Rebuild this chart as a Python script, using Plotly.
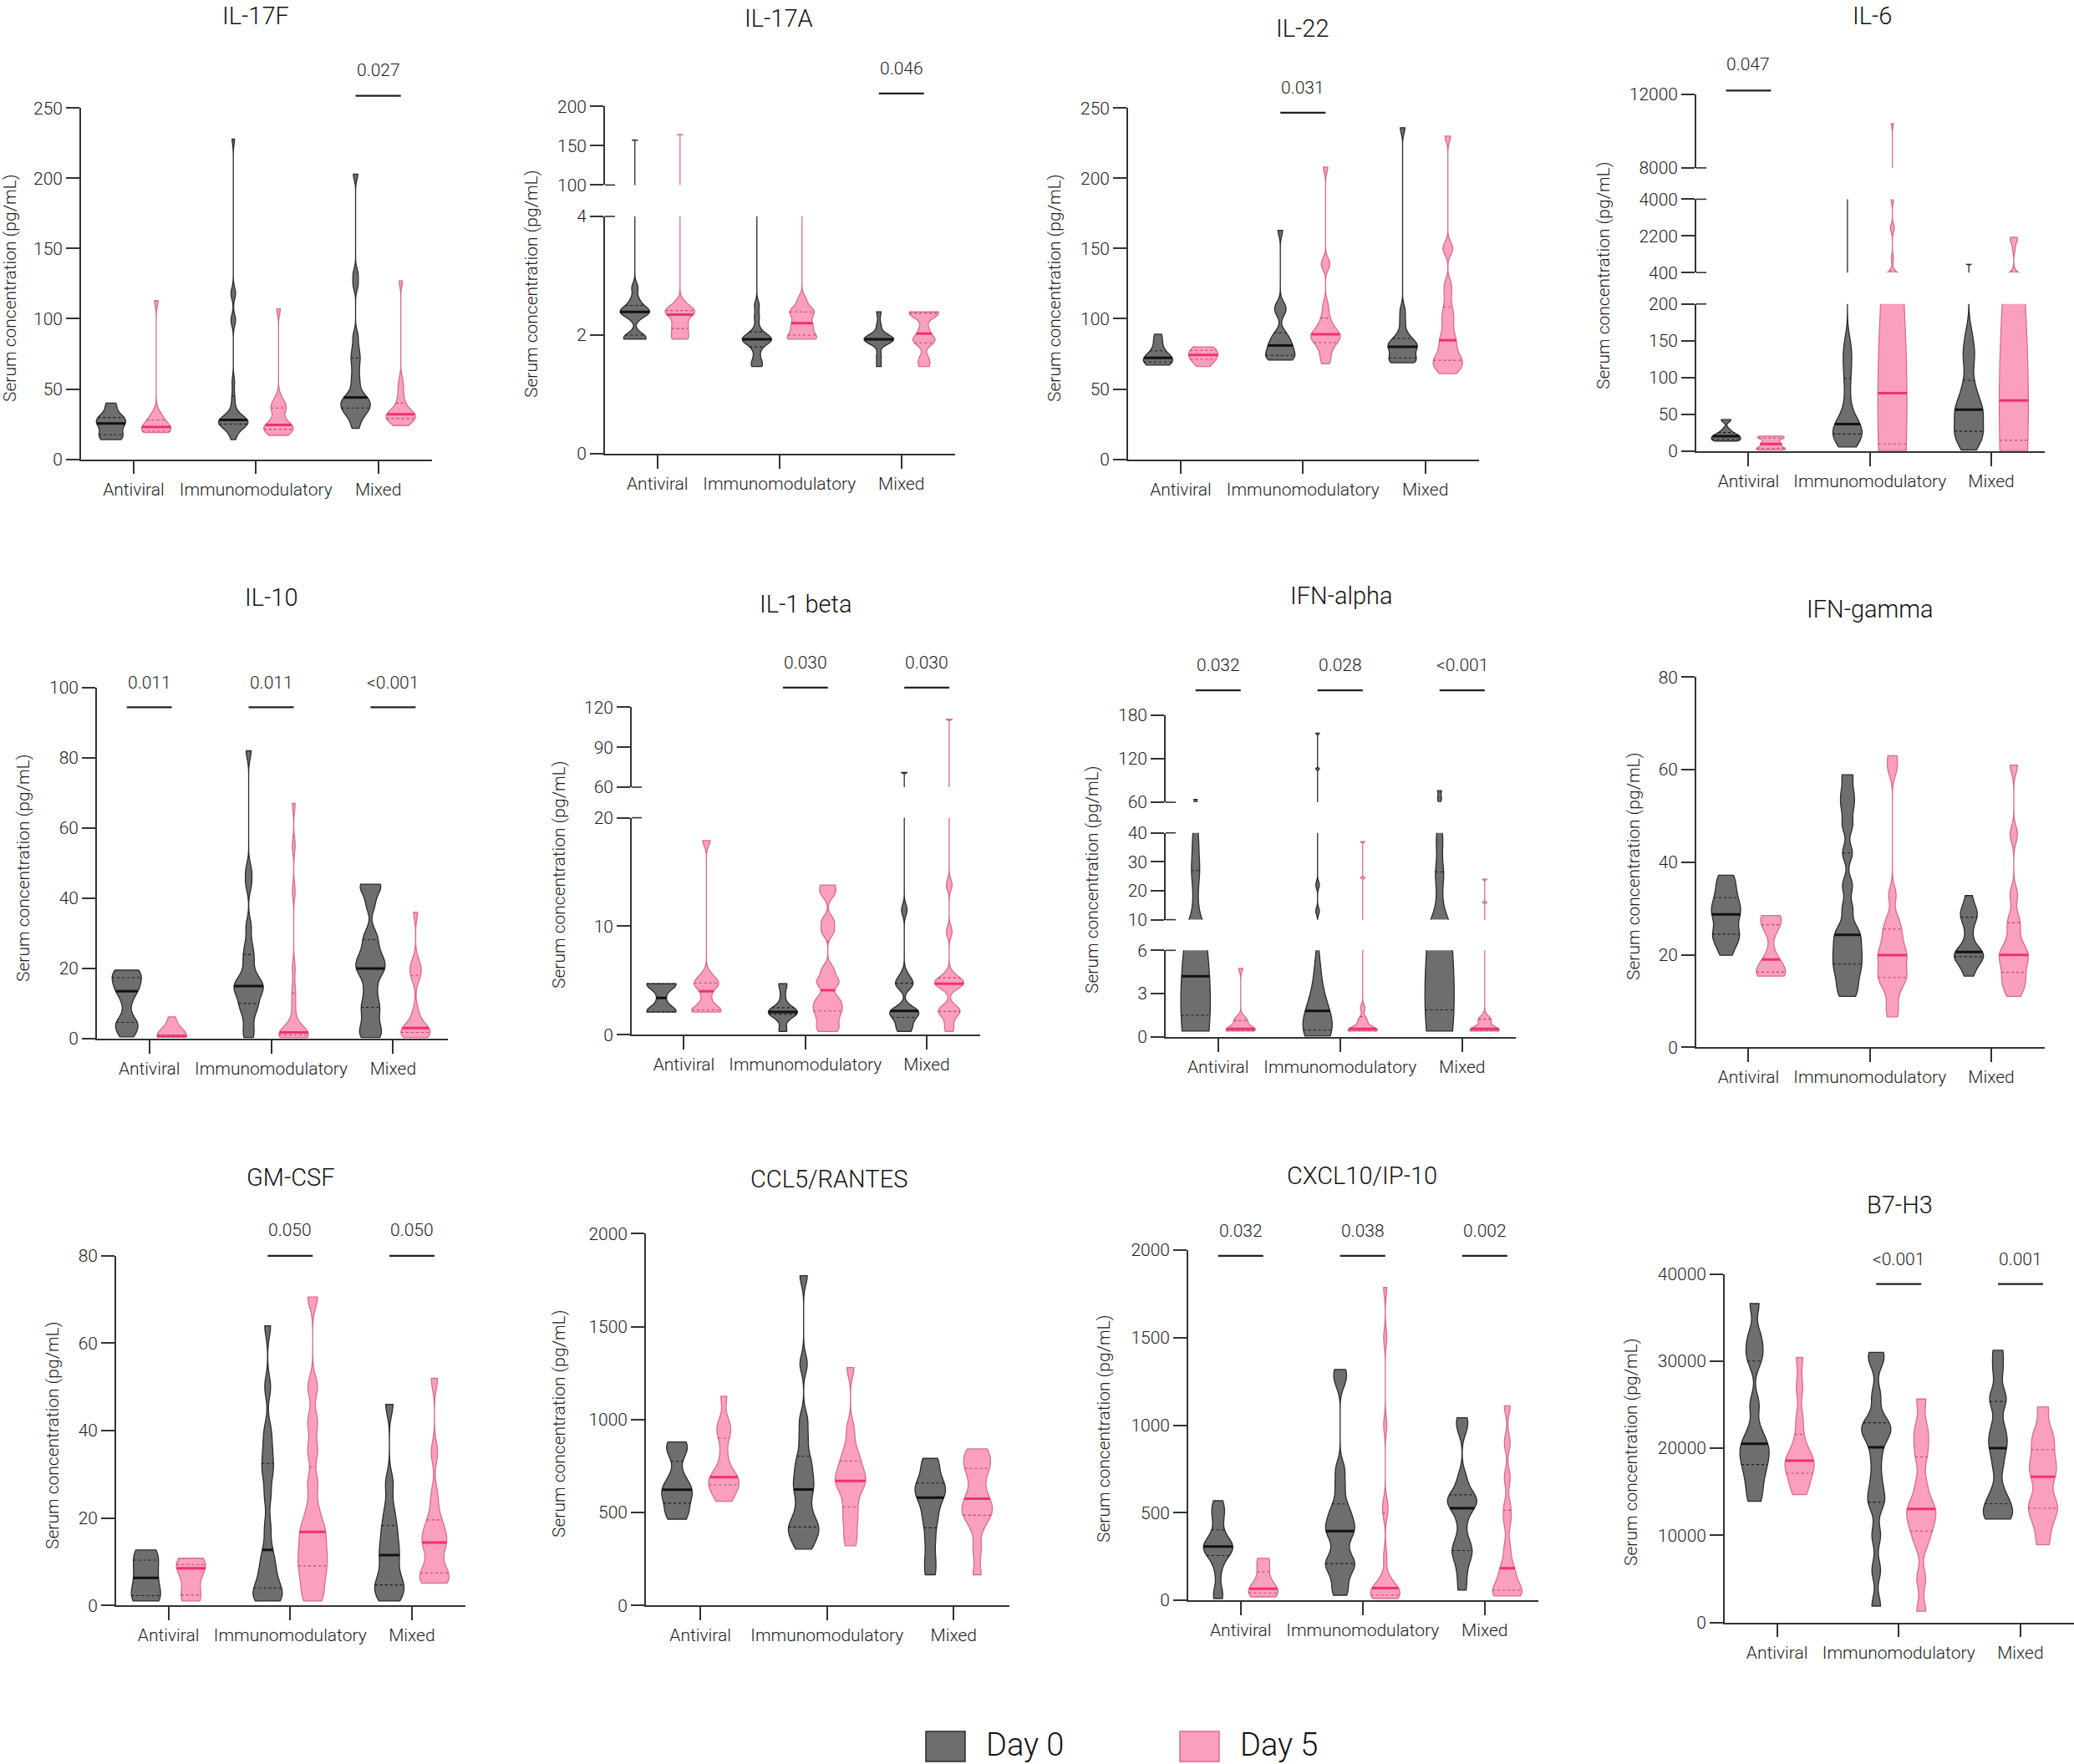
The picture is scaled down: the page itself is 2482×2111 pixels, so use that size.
import numpy as np
import plotly.graph_objects as go

GROUPS = ["Antiviral", "Immunomodulatory", "Mixed"]
DAYS = ["Day 0", "Day 5"]

# serum values, one list per group: Antiviral, Immunomodulatory, Mixed
IL17F_D0 = [[14, 15, 16, 17, 19, 24, 25, 26, 27, 29, 30, 31, 38, 40],
            [14, 18, 21, 23, 24, 25, 25, 26, 26, 27, 27, 27, 28, 28, 29, 30, 33, 38, 45, 55, 98, 100, 117, 119, 228],
            [22, 27, 31, 33, 35, 36, 37, 39, 41, 42, 43, 44, 48, 53, 58, 64, 70, 74, 80, 88, 124, 132, 203]]
IL17F_D5 = [[19, 19, 20, 20, 21, 22, 23, 24, 26, 28, 30, 33, 113],
            [17, 18, 19, 20, 21, 22, 23, 24, 24, 25, 27, 33, 35, 37, 38, 40, 44, 107],
            [24, 26, 27, 28, 29, 30, 31, 31, 32, 33, 34, 36, 40, 44, 50, 56, 127]]

IL17A_D0 = [[1.93, 1.93, 1.95, 2.0, 2.3, 2.39, 2.39, 2.4, 2.4, 2.5, 2.6, 2.8, 157],
            [1.47, 1.5, 1.6, 1.75, 1.85, 1.9, 1.93, 1.93, 1.93, 1.95, 2.0, 2.1, 2.3, 2.5, 20],
            [1.47, 1.65, 1.9, 1.93, 1.93, 1.93, 1.93, 1.93, 1.95, 2.15, 2.39]]
IL17A_D5 = [[1.93, 1.95, 2.05, 2.13, 2.2, 2.3, 2.39, 2.39, 2.4, 2.45, 2.55, 164],
            [1.93, 1.93, 1.95, 2.0, 2.1, 2.15, 2.2, 2.3, 2.39, 2.39, 2.45, 2.6, 30],
            [1.47, 1.6, 1.85, 1.93, 1.95, 2.1, 2.3, 2.39, 2.39, 2.39]]

IL22_D0 = [[67, 67.5, 68, 69, 70, 71, 72, 72.5, 73, 75, 78, 82, 86, 89],
           [70.6, 71, 72, 73, 74, 76, 78, 80, 81, 83, 85, 88, 90, 104, 107, 110, 163],
           [68.7, 69, 70, 71, 72, 74, 78, 80, 80, 81, 82, 84, 86, 90, 98, 106, 236]]
IL22_D5 = [[66, 67, 69, 71, 72, 73, 74, 74.5, 75, 76, 78, 79, 80, 80],
           [68, 72, 76, 80, 82, 84, 86, 87, 88, 89, 90, 92, 95, 98, 103, 110, 138, 140, 208],
           [61, 63, 65, 67, 69, 70, 72, 74, 77, 80, 83.5, 86, 90, 95, 100, 104, 110, 118, 125, 148, 152, 230]]

IL6_D0 = [[14, 14, 15, 16, 17, 19, 20, 21, 22, 24, 26, 30, 42, 43],
          [6, 10, 14, 18, 22, 24, 26, 28, 32, 36, 38, 45, 55, 75, 95, 110, 125, 135, 150, 5000],
          [1.8, 10, 18, 22, 25, 28, 35, 45, 52, 55, 58, 62, 70, 85, 90, 115, 130, 140, 160, 805]]
IL6_D5 = [[1.8, 2, 3, 4, 6, 9, 10, 12, 15, 18, 19, 20, 20.6],
          [1, 1.5, 2, 2, 3, 10, 30, 50, 60, 70, 79, 120, 180, 250, 330, 480, 1100, 2500, 2650, 3950, 10400],
          [1, 2, 3, 4, 5, 15, 30, 45, 55, 62, 69, 100, 150, 220, 300, 450, 1500, 1850, 2000, 2100, 2130]]

IL10_D0 = [[0.5, 2, 3.8, 4.5, 5, 10, 13, 14, 15, 16, 17.8, 18.5, 19, 19.5],
           [0.3, 2, 5, 8, 9, 10, 12, 13, 14, 15, 15, 16, 17, 19, 22, 24, 27, 32, 44, 48, 82],
           [0.3, 1, 3, 5, 8, 9.2, 12, 15, 18, 20, 20, 22, 23, 25, 27.6, 30, 38, 42, 44, 44]]
IL10_D5 = [[0.4, 0.5, 0.5, 0.5, 0.6, 0.7, 0.7, 0.8, 1, 1.5, 5.5, 6.2],
           [0.3, 0.4, 0.5, 0.8, 1, 1.2, 1.5, 1.6, 1.7, 1.8, 3, 6, 10, 14, 20, 42, 55, 67],
           [0.3, 0.5, 1, 1.5, 2, 2.3, 2.5, 3, 5, 8, 17, 19, 20, 22, 36]]

IL1B_D0 = [[2.1, 2.1, 2.1, 2.3, 3.4, 4.5, 4.7, 4.7, 4.7],
           [0.3, 0.5, 1.8, 1.9, 2, 2.1, 2.1, 2.1, 2.2, 2.5, 3.5, 4.6, 4.7],
           [0.3, 0.5, 1, 1.4, 1.8, 2.1, 2.1, 2.2, 2.3, 4.5, 4.7, 4.8, 5.5, 11.5, 71]]
IL1B_D5 = [[2.1, 2.1, 2.2, 2.5, 3.5, 4.5, 4.7, 4.8, 5.5, 17.9],
           [0.3, 0.8, 1.5, 2.1, 2.5, 3, 3.5, 4.7, 5, 6, 9.5, 10.5, 13, 13.8],
           [0.3, 1, 2, 2.1, 2.2, 2.5, 4.5, 4.7, 4.7, 4.8, 5, 5.5, 9.5, 13.8, 111]]

IFNA_D0 = [[0.4, 0.5, 1.0, 1.3, 1.5, 2.5, 3.5, 4.0, 4.2, 9, 12, 20, 27, 28, 35, 40, 64],
           [0.05, 0.1, 0.3, 0.37, 0.5, 0.8, 1.2, 1.6, 2, 2.5, 3.5, 5, 13, 22, 106, 155],
           [0.4, 0.5, 0.6, 0.8, 1.5, 3, 5, 7, 8, 9, 12, 18, 25, 27, 35, 40, 65, 76]]
IFNA_D5 = [[0.4, 0.4, 0.4, 0.45, 0.5, 0.5, 0.6, 0.8, 1.1, 1.2, 1.3, 4.75],
           [0.4, 0.4, 0.4, 0.45, 0.5, 0.5, 0.6, 1.1, 1.2, 2.0, 24.5, 37],
           [0.4, 0.4, 0.4, 0.45, 0.5, 0.5, 0.6, 1.1, 1.2, 1.3, 16, 24]]

IFNG_D0 = [[19.9, 22, 23.5, 24.3, 25, 27, 28.5, 29, 30.5, 31, 32.8, 34, 36, 37.2],
           [11, 13, 15, 17, 18, 20, 21, 23, 24.3, 26, 30, 35, 42, 48, 52, 55, 58.9],
           [15.4, 17, 19, 19.5, 19.9, 20, 20.2, 21, 24, 27, 28.5, 29, 30, 32.8]]
IFNG_D5 = [[15.4, 15.5, 16, 17, 18, 20, 25, 27, 28, 28.5],
           [6.6, 9, 12, 14, 15, 15.4, 17, 18, 19.9, 20, 21, 23, 24.3, 26, 28, 33, 60, 63],
           [11, 13, 14, 15.4, 17, 18, 19.9, 20, 21, 23, 25.8, 28, 33, 46, 61]]

GMCSF_D0 = [[1, 1.2, 1.5, 2.5, 3.5, 6, 6.6, 8, 10, 11.5, 12, 12.7],
            [1, 1.5, 2, 2.9, 4, 6, 8, 10, 12.7, 18, 25, 30, 32.5, 36, 40, 50, 64],
            [1, 2, 4, 4.7, 6, 9, 11.5, 13, 16, 18.3, 22, 28, 46]]
GMCSF_D5 = [[1, 1.5, 1.8, 3, 6, 8.5, 9, 9.2, 9.5, 10, 10.8],
            [1, 3, 6, 8, 10.1, 12, 14, 16.8, 18, 22, 28, 35.4, 42, 50, 70.6],
            [5.1, 5.5, 6.5, 7.2, 8, 12, 14, 14.8, 16, 18, 20.1, 25, 35, 52]]

CCL5_D0 = [[464, 480, 505, 540, 580, 600, 615, 630, 660, 700, 800, 848, 860, 879],
           [303, 340, 380, 410, 422, 450, 500, 560, 624, 650, 700, 750, 802, 900, 1000, 1300, 1774],
           [165, 250, 350, 440, 500, 560, 600, 620, 650, 684, 750, 791]]
CCL5_D5 = [[560, 580, 620, 648, 660, 679, 690, 720, 800, 900, 952, 980, 1125],
           [321, 380, 450, 501, 560, 620, 650, 670, 690, 720, 760, 793, 850, 950, 1279],
           [165, 300, 420, 480, 499, 520, 560, 587, 650, 720, 743, 780, 820, 842]]

CXCL10_D0 = [[10, 50, 170, 250, 273, 290, 300, 315, 330, 350, 420, 487, 520, 569],
             [29, 80, 150, 200, 210, 230, 300, 370, 395, 420, 460, 498, 550, 650, 750, 1250, 1318],
             [58, 150, 230, 269, 300, 350, 450, 526, 550, 570, 584, 620, 700, 980, 1042]]
CXCL10_D5 = [[19.5, 25, 35, 45, 55, 62, 70, 80, 150, 200, 230, 240],
             [10, 15, 20, 23, 30, 40, 50, 62, 70, 90, 120, 250, 498, 550, 1000, 1500, 1786],
             [25, 30, 39, 50, 80, 120, 166, 200, 300, 450, 535, 700, 900, 1110]]

B7H3_D0 = [[13895, 15500, 17000, 18122, 19000, 20000, 20500, 22000, 25000, 30000, 31390, 33000, 36595],
           [1879, 6000, 10000, 13582, 14500, 16500, 19000, 21214, 21800, 22662, 23000, 26000, 30000, 31000],
           [11859, 12000, 13000, 13621, 15000, 18000, 20000, 21000, 22500, 25363, 26000, 29000, 31233]]
B7H3_D5 = [[14678, 15500, 16500, 17340, 18000, 18317, 18800, 19500, 21000, 23367, 27000, 30412],
           [1292, 5000, 9000, 10490, 11500, 12500, 13034, 14000, 16000, 19000, 20822, 22500, 25637],
           [8924, 11000, 12500, 13308, 14000, 16000, 17417, 18000, 19500, 20822, 22000, 24737]]

# y tick labels, one list per axis segment (broken axes have several)
IL17F_TICKS = [[0, 50, 100, 150, 200, 250]]
IL17A_TICKS = [[0, 2, 4], [100, 150, 200]]
IL22_TICKS = [[0, 50, 100, 150, 200, 250]]
IL6_TICKS = [[0, 50, 100, 150, 200], [400, 2200, 4000], [8000, 12000]]
IL10_TICKS = [[0, 20, 40, 60, 80, 100]]
IL1B_TICKS = [[0, 10, 20], [60, 90, 120]]
IFNA_TICKS = [[0, 3, 6], [10, 20, 30, 40], [60, 120, 180]]
IFNG_TICKS = [[0, 20, 40, 60, 80]]
GMCSF_TICKS = [[0, 20, 40, 60, 80]]
CCL5_TICKS = [[0, 500, 1000, 1500, 2000]]
CXCL10_TICKS = [[0, 500, 1000, 1500, 2000]]
B7H3_TICKS = [[0, 10000, 20000, 30000, 40000]]

# Day 0 vs Day 5 p values per group
IL17F_P = [None, None, "0.027"]
IL17A_P = [None, None, "0.046"]
IL22_P = [None, "0.031", None]
IL6_P = ["0.047", None, None]
IL10_P = ["0.011", "0.011", "<0.001"]
IL1B_P = [None, "0.030", "0.030"]
IFNA_P = ["0.032", "0.028", "<0.001"]
IFNG_P = [None, None, None]
GMCSF_P = [None, "0.050", "0.050"]
CCL5_P = [None, None, None]
CXCL10_P = ["0.032", "0.038", "0.002"]
B7H3_P = [None, "<0.001", "0.001"]

PANELS = [
    ("IL-17F", IL17F_D0, IL17F_D5, IL17F_TICKS, IL17F_P),
    ("IL-17A", IL17A_D0, IL17A_D5, IL17A_TICKS, IL17A_P),
    ("IL-22", IL22_D0, IL22_D5, IL22_TICKS, IL22_P),
    ("IL-6", IL6_D0, IL6_D5, IL6_TICKS, IL6_P),
    ("IL-10", IL10_D0, IL10_D5, IL10_TICKS, IL10_P),
    ("IL-1 beta", IL1B_D0, IL1B_D5, IL1B_TICKS, IL1B_P),
    ("IFN-alpha", IFNA_D0, IFNA_D5, IFNA_TICKS, IFNA_P),
    ("IFN-gamma", IFNG_D0, IFNG_D5, IFNG_TICKS, IFNG_P),
    ("GM-CSF", GMCSF_D0, GMCSF_D5, GMCSF_TICKS, GMCSF_P),
    ("CCL5/RANTES", CCL5_D0, CCL5_D5, CCL5_TICKS, CCL5_P),
    ("CXCL10/IP-10", CXCL10_D0, CXCL10_D5, CXCL10_TICKS, CXCL10_P),
    ("B7-H3", B7H3_D0, B7H3_D5, B7H3_TICKS, B7H3_P),
]

# kernel bandwidth per panel (scalar) or per violin (A0, A5, I0, I5, M0, M5)
BW = [4, 0.08, 4, [3, 2.5, 15, 180, 15, 180], 2.2, 0.5,
      [4.5, 0.25, 1.2, 0.25, 4, 0.25], 1.8, 2.5, 50, 50, 1200]

# pixel layout: left, right, x-range end, segments (bottom px, top px),
# title xy, y-title xy, p-value line y, p-value text y
GEOM = [
    (97, 517, 2.44, [(549.6, 129.3)], (306, 19), (12, 345), 114.7, 84),
    (724, 1143, 2.44, [(542.9, 259), (221.4, 127.3)], (932, 22), (636, 340), 111.9, 82),
    (1350, 1770, 2.44, [(549.6, 129.3)], (1559, 34), (1262, 345), 134.8, 105),
    (2030, 2447, 2.44, [(540.1, 363.8), (326.2, 238.4), (200.9, 112.7)], (2240, 19), (1919, 330), 108.3, 77),
    (116, 536, 2.45, [(1242.9, 822.9)], (325, 715), (28, 1039), 846.4, 817),
    (756, 1173, 2.44, [(1238.3, 978.6), (942, 846.4)], (964, 723), (669, 1047), 822.9, 793),
    (1395, 1814, 2.44, [(1240.8, 1137.3), (1100.6, 996.7), (960.1, 855.7)], (1605, 713), (1307, 1053), 826.2, 795.5),
    (2030, 2447, 2.44, [(1253.4, 810.3)], (2238, 729), (1955, 1037), None, None),
    (139, 557, 2.44, [(1921.2, 1502.9)], (348, 1409), (63, 1718), 1502.9, 1472),
    (773, 1208, 2.44, [(1921.2, 1476.3)], (992, 1411), (669, 1704), None, None),
    (1422, 1841, 2.44, [(1915.1, 1495.9)], (1630, 1407), (1321, 1710), 1502.9, 1473),
    (2064, 2482, 2.44, [(1941.6, 1524.5)], (2273, 1442), (1952, 1738), 1536.7, 1507),
]

W, H = 2482, 2111
FONT = "Roboto"
TXT = "#1c1c1c"
GRAY_FILL, GRAY_LINE, GRAY_MED = "#6e6e6e", "#2b2b2b", "#111111"
PINK_FILL, PINK_LINE, PINK_MED = "#fb9fbe", "#d76c93", "#f0306f"
OFF = 0.185
VW = 0.24


def pxx(x):
    return x / W


def pxy(y):
    return 1 - y / H


def kde_half(vals, bw, ys, half):
    v = np.asarray(vals, float)
    lo, hi = v.min(), v.max()
    n = int(np.ceil((hi - lo) / (bw / 3.0)))
    grid = np.linspace(lo, hi, n + 1)

    def dens(t):
        t = np.asarray(t, float)
        return np.exp(-0.5 * ((t[:, None] - v[None, :]) / bw) ** 2).sum(1)

    mx = dens(grid).max()
    return dens(ys) / mx * half


fig = go.Figure()
layout_axes = {}
shapes = []
annotations = []
yid = 0

for i, (title, d0, d5, ticks, pvals) in enumerate(PANELS):
    left, right, xend, segs, title_xy, ytitle_xy, pline, ptext = GEOM[i]
    xn = i + 1
    xname = "x" if xn == 1 else f"x{xn}"
    xkey = "xaxis" if xn == 1 else f"xaxis{xn}"
    bws = BW[i] if isinstance(BW[i], list) else [BW[i]] * 6

    ynames = []
    for s, (pb, pt) in enumerate(segs):
        yid += 1
        yname = "y" if yid == 1 else f"y{yid}"
        ykey = "yaxis" if yid == 1 else f"yaxis{yid}"
        tv = ticks[s]
        layout_axes[ykey] = dict(
            domain=[pxy(pb), pxy(pt)], range=[tv[0], tv[-1]], anchor=xname,
            tickvals=tv, ticktext=[str(t) for t in tv], showline=True,
            linecolor="#333333", linewidth=1.6, ticks="outside", ticklen=16,
            tickwidth=1.6, tickcolor="#333333", showgrid=False, zeroline=False,
            tickfont=dict(family=FONT, size=21, color=TXT, weight=300),
            fixedrange=True, automargin=False,
        )
        ynames.append(yname)
        # break marks crossing the axis at interior segment edges
        if s > 0:
            shapes.append(dict(type="line", xref="paper", yref="paper",
                               x0=pxx(left), x1=pxx(left + 12), y0=pxy(pb), y1=pxy(pb),
                               line=dict(color="#333333", width=1.6)))
        if s < len(segs) - 1:
            shapes.append(dict(type="line", xref="paper", yref="paper",
                               x0=pxx(left), x1=pxx(left + 12), y0=pxy(pt), y1=pxy(pt),
                               line=dict(color="#333333", width=1.6)))

    layout_axes[xkey] = dict(
        domain=[pxx(left), min(pxx(right), 1.0)], range=[-0.43, xend], anchor=ynames[0],
        tickvals=[0, 1, 2], ticktext=GROUPS, showline=True, linecolor="#333333",
        linewidth=1.6, ticks="outside", ticklen=16, tickwidth=1.6, tickcolor="#333333",
        showgrid=False, zeroline=False,
        tickfont=dict(family=FONT, size=21, color=TXT, weight=300), fixedrange=True,
        automargin=False,
    )

    for yname in ynames:
        lines = {"gm": ([], []), "gq": ([], []), "pm": ([], []), "pq": ([], [])}
        for g in range(3):
            for d, vals in enumerate((d0[g], d5[g])):
                pos = g - OFF if d == 0 else g + OFF
                bw = bws[2 * g + d]
                fill, lc = (GRAY_FILL, GRAY_LINE) if d == 0 else (PINK_FILL, PINK_LINE)
                fig.add_trace(go.Violin(
                    y=vals, x0=pos, xaxis=xname, yaxis=yname, orientation="v",
                    width=VW, spanmode="hard", bandwidth=bw, points=False,
                    fillcolor=fill, line=dict(color=lc, width=1.3), opacity=1,
                    box_visible=False, meanline_visible=False, scalemode="width",
                    name=f"{title} {GROUPS[g]} {DAYS[d]}", showlegend=False,
                    hoverinfo="skip"))
                q1, med, q3 = np.percentile(vals, [25, 50, 75])
                hw = kde_half(vals, bw, [q1, med, q3], VW / 2)
                tag = "g" if d == 0 else "p"
                for val, w, kind in ((q1, hw[0], "q"), (q3, hw[2], "q"), (med, hw[1], "m")):
                    xs, ys = lines[tag + kind]
                    xs += [pos - w, pos + w, None]
                    ys += [val, val, None]
        for key, (xs, ys) in lines.items():
            color = {"gm": GRAY_MED, "gq": "#1a1a1a", "pm": PINK_MED, "pq": "#c4406f"}[key]
            fig.add_trace(go.Scatter(
                x=xs, y=ys, mode="lines", xaxis=xname, yaxis=yname,
                line=dict(color=color, width=3 if key.endswith("m") else 1.1,
                          dash="solid" if key.endswith("m") else "dot"),
                showlegend=False, hoverinfo="skip"))

    annotations.append(dict(text=title, x=pxx(title_xy[0]), y=pxy(title_xy[1]),
                            xref="paper", yref="paper", showarrow=False,
                            xanchor="center", yanchor="middle",
                            font=dict(family=FONT, size=29, color="#111111", weight=300)))
    annotations.append(dict(text="Serum concentration (pg/mL)", x=pxx(ytitle_xy[0]),
                            y=pxy(ytitle_xy[1]), xref="paper", yref="paper",
                            showarrow=False, textangle=-90, xanchor="center",
                            yanchor="middle",
                            font=dict(family=FONT, size=21, color=TXT, weight=300)))
    for g, pv in enumerate(pvals):
        if pv is None:
            continue
        shapes.append(dict(type="line", xref=xname, yref="paper", x0=g - OFF, x1=g + OFF,
                           y0=pxy(pline), y1=pxy(pline),
                           line=dict(color="#222222", width=2.2)))
        annotations.append(dict(text=pv, x=g, y=pxy(ptext), xref=xname, yref="paper",
                                showarrow=False, xanchor="center", yanchor="middle",
                                font=dict(family=FONT, size=21, color=TXT, weight=300)))

# legend drawn at the bottom centre
for (x0, x1, tx, fill, lc, label) in ((1108, 1155, 1178, GRAY_FILL, GRAY_LINE, DAYS[0]),
                                      (1412, 1459, 1482, PINK_FILL, PINK_LINE, DAYS[1])):
    shapes.append(dict(type="rect", xref="paper", yref="paper", x0=pxx(x0), x1=pxx(x1),
                       y0=pxy(2108), y1=pxy(2072), fillcolor=fill,
                       line=dict(color=lc, width=1.5)))
    annotations.append(dict(text=label, x=pxx(tx), y=pxy(2088), xref="paper", yref="paper",
                            showarrow=False, xanchor="left", yanchor="middle",
                            font=dict(family=FONT, size=38, color="#111111", weight=300)))

fig.update_layout(
    width=W, height=H, margin=dict(l=0, r=0, t=0, b=0, pad=0, autoexpand=False),
    paper_bgcolor="white", plot_bgcolor="white", violinmode="overlay",
    showlegend=False, shapes=shapes, annotations=annotations,
    font=dict(family=FONT, color=TXT), **layout_axes,
)

fig.write_html("out.html", config={"displayModeBar": False},
               post_script="document.body.style.margin='0px';")
